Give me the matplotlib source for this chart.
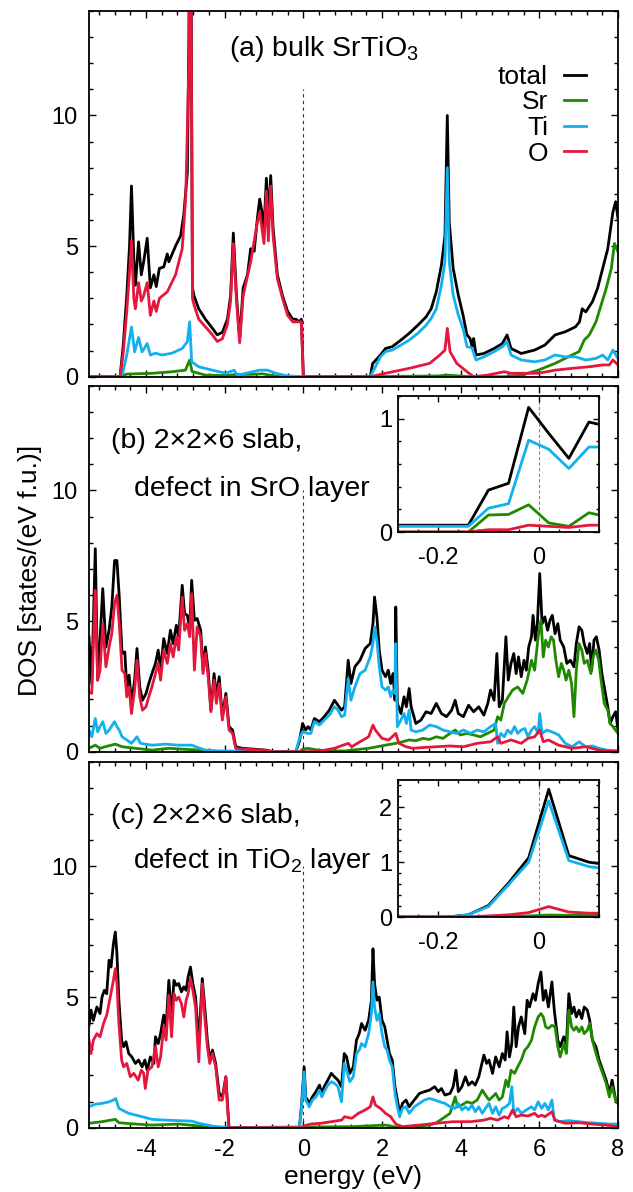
import numpy as np
import matplotlib
matplotlib.use("Agg")
import matplotlib.pyplot as plt
from matplotlib.ticker import MultipleLocator

plt.rcParams['font.family'] = ['Liberation Sans', 'DejaVu Sans']
plt.rcParams['mathtext.fontset'] = 'custom'
plt.rcParams['mathtext.rm'] = 'Liberation Sans'
plt.rcParams['mathtext.it'] = 'Liberation Sans:italic'
plt.rcParams['mathtext.bf'] = 'Liberation Sans:bold'
plt.rcParams['axes.unicode_minus'] = False

# ------------------------------------------------------------------ data
species = ["total", "Sr", "Ti", "O"]
colors = {"total": "#000000", "Sr": "#1f8a00", "Ti": "#12b0ee", "O": "#e5173c"}

# ---- panel (a): bulk SrTiO3
a_tot_E = [-5.45, -4.66, -4.58, -4.49, -4.42, -4.37, -4.31, -4.27, -4.19, -4.12, -4.06, -3.97, -3.89, -3.80, -3.74,
           -3.66, -3.55, -3.46, -3.42, -3.25, -3.12, -3.04, -2.95, -2.91, -2.88, -2.85, -2.82, -2.78, -2.66, -2.49,
           -2.31, -2.19, -2.06, -1.93, -1.85, -1.78, -1.70, -1.62, -1.53, -1.42, -1.34, -1.25, -1.17, -1.11, -1.04,
           -1.00, -0.94, -0.89, -0.83, -0.77, -0.66, -0.53, -0.40, -0.27, -0.19, -0.10, -0.05, 0.00, 1.70, 1.76,
           1.96, 2.09, 2.26, 2.48, 2.69, 2.91, 3.12, 3.25, 3.38, 3.51, 3.60, 3.66, 3.71, 3.81, 3.94,
           4.06, 4.16, 4.24, 4.29, 4.33, 4.39, 4.59, 4.85, 5.06, 5.18, 5.28, 5.54, 5.88, 6.14, 6.40,
           6.66, 6.92, 7.02, 7.09, 7.18, 7.35, 7.48, 7.61, 7.74, 7.87, 7.94, 8.00]
a_tot = [0, 0, 1.2, 3.1, 5.0, 7.3, 4.5, 3.5, 5.16, 3.9, 4.4, 5.3, 3.4, 3.9, 3.45,
         4.15, 4.2, 4.7, 4.4, 5.0, 5.4, 6.2, 7.8, 13, 20, 14, 3.4, 3.1, 2.6, 2.2,
         1.85, 1.6, 1.7, 2.2, 3.1, 5.5, 3.1, 1.45, 3.4, 3.9, 4.9, 4.8, 6.05, 6.8, 6.2,
         5.7, 7.6, 6.05, 7.7, 5.7, 3.9, 3.1, 2.5, 2.2, 2.2, 2.1, 2.2, 0, 0, 0.5,
         0.83, 1.08, 1.15, 1.4, 1.66, 1.97, 2.29, 2.6, 3.25, 4.27, 5.4, 10.0, 5.9, 4.14, 3.12,
         2.36, 1.6, 1.46, 1.15, 1.46, 0.83, 0.89, 1.08, 1.27, 1.6, 1.08, 0.89, 1.02, 1.21, 1.6,
         1.72, 1.91, 2.1, 2.6, 2.48, 2.87, 3.38, 4.14, 4.9, 6.3, 6.7, 6.05]

a_O_E = [-5.45, -4.66, -4.58, -4.49, -4.42, -4.37, -4.31, -4.27, -4.19, -4.12, -4.06, -3.97, -3.89, -3.80, -3.74,
         -3.66, -3.46, -3.25, -3.08, -2.99, -2.91, -2.88, -2.85, -2.82, -2.78, -2.66, -2.31, -2.19, -2.06, -1.93,
         -1.85, -1.78, -1.70, -1.62, -1.53, -1.34, -1.17, -1.11, -1.00, -0.94, -0.89, -0.83, -0.77, -0.66, -0.53,
         -0.40, -0.27, -0.10, -0.05, 0.00, 1.70, 2.09, 2.69, 3.21, 3.47, 3.60, 3.66, 3.73, 3.90, 4.16,
         4.33, 4.68, 5.11, 5.28, 5.97, 6.40, 6.83, 7.27, 7.61, 7.78, 7.87, 8.00]
a_O = [0, 0, 0.9, 2.5, 4.0, 5.2, 3.0, 2.6, 3.6, 2.9, 3.1, 3.6, 2.35, 2.9, 2.5,
       3.0, 3.25, 3.9, 4.9, 6.9, 12, 20, 13, 3.0, 2.75, 2.2, 1.6, 1.35, 1.45, 2.0,
       2.9, 5.1, 2.9, 1.3, 3.1, 4.4, 5.9, 6.3, 5.1, 7.1, 5.2, 7.3, 5.4, 3.75, 3.0,
       2.35, 2.1, 2.1, 2.1, 0, 0, 0.13, 0.32, 0.51, 0.83, 1.02, 1.85, 0.96, 0.51, 0.19,
       0.0, 0.06, 0.19, 0.13, 0.13, 0.25, 0.32, 0.38, 0.45, 0.45, 0.64, 0.45]

a_Ti_E = [-5.45, -4.66, -4.60, -4.49, -4.37, -4.29, -4.19, -4.10, -3.97, -3.89, -3.76, -3.59, -3.34, -3.08, -2.95,
          -2.89, -2.84, -2.66, -2.31, -1.97, -1.76, -1.68, -1.46, -1.12, -0.91, -0.70, -0.44, -0.10, 1.70, 1.96,
          2.09, 2.26, 2.48, 2.69, 2.91, 3.12, 3.25, 3.38, 3.51, 3.60, 3.66, 3.71, 3.81, 3.94, 4.06,
          4.16, 4.29, 4.39, 4.59, 4.85, 5.06, 5.18, 5.28, 5.54, 5.88, 6.14, 6.40, 6.66, 6.92, 7.18,
          7.44, 7.61, 7.74, 7.87, 8.00]
a_Ti = [0, 0, 0.1, 0.83, 1.9, 0.95, 1.5, 0.95, 1.27, 0.83, 0.9, 0.83, 0.9, 1.08, 1.34,
        2.1, 0.57, 0.38, 0.25, 0.13, 0.25, 0.06, 0.13, 0.25, 0.25, 0.13, 0.04, 0.0, 0, 0.76,
        0.96, 1.02, 1.21, 1.4, 1.66, 1.97, 2.23, 2.6, 3.5, 4.4, 8.0, 4.4, 3.12, 2.36, 1.85,
        1.15, 1.1, 0.64, 0.76, 0.96, 1.15, 1.34, 0.83, 0.64, 0.57, 0.64, 0.83, 0.76, 0.76, 0.64,
        0.7, 0.83, 0.64, 1.02, 0.7]

a_Sr_E = [-5.45, -4.66, -4.49, -3.85, -3.34, -3.00, -2.89, -2.83, -2.49, -1.97, -1.76, -1.29, -1.04, -0.78, -0.44,
          0.00, 1.70, 3.40, 3.66, 3.95, 4.24, 5.11, 5.54, 5.97, 6.40, 6.83, 7.01, 7.14, 7.27, 7.44,
          7.57, 7.70, 7.83, 7.91, 8.00]
a_Sr = [0, 0, 0.1, 0.13, 0.19, 0.25, 0.64, 0.2, 0.06, 0.04, 0.08, 0.09, 0.11, 0.04, 0,
        0, 0, 0.03, 0.06, 0.03, 0, 0, 0.06, 0.25, 0.51, 0.83, 0.96, 1.4, 1.6, 2.1,
        2.74, 3.38, 4.14, 5.1, 4.78]

# ---- panel (b): 2x2x6 slab, defect in SrO layer
b_tot_E = [-5.45, -5.38, -5.29, -5.23, -5.17, -5.10, -5.02, -4.94, -4.87, -4.80, -4.74, -4.68, -4.61, -4.54, -4.49,
           -4.43, -4.37, -4.29, -4.23, -4.16, -4.09, -4.00, -3.93, -3.85, -3.76, -3.69, -3.63, -3.55, -3.46, -3.38,
           -3.31, -3.23, -3.17, -3.08, -3.02, -2.95, -2.89, -2.84, -2.77, -2.70, -2.61, -2.55, -2.49, -2.42, -2.35,
           -2.27, -2.21, -2.14, -2.06, -1.97, -1.89, -1.80, -1.72, -1.55, -1.29, -0.95, -0.78, -0.19, -0.10, -0.02,
           0.06, 0.12, 0.19, 0.28, 0.41, 0.53, 0.66, 0.79, 0.88, 0.97, 1.05, 1.14, 1.21, 1.31, 1.44,
           1.57, 1.70, 1.77, 1.81, 1.87, 1.93, 2.00, 2.09, 2.16, 2.22, 2.28, 2.33, 2.35, 2.39, 2.48,
           2.56, 2.62, 2.69, 2.74, 2.86, 2.99, 3.12, 3.25, 3.38, 3.51, 3.64, 3.77, 3.86, 3.94, 4.07,
           4.20, 4.33, 4.46, 4.59, 4.69, 4.76, 4.85, 4.92, 4.98, 5.06, 5.15, 5.21, 5.28, 5.35, 5.41,
           5.47, 5.54, 5.61, 5.67, 5.73, 5.80, 5.84, 5.90, 5.95, 6.01, 6.07, 6.14, 6.21, 6.27, 6.33,
           6.40, 6.47, 6.53, 6.62, 6.70, 6.79, 6.88, 6.94, 7.01, 7.08, 7.14, 7.22, 7.28, 7.33, 7.39,
           7.45, 7.52, 7.59, 7.65, 7.74, 7.80, 7.87, 7.94, 8.00]
b_tot = [4.4, 2.6, 7.77, 2.74, 4.27, 6.24, 4.0, 4.65, 5.54, 7.32, 7.32, 5.92, 3.76, 3.82, 2.48,
         2.93, 1.85, 2.74, 3.95, 2.48, 1.97, 2.23, 2.61, 2.99, 3.38, 3.89, 3.12, 4.33, 3.76, 4.65,
         4.14, 4.84, 4.4, 6.37, 5.29, 5.22, 4.71, 6.56, 5.03, 5.1, 4.65, 3.12, 4.01, 3.12, 1.59,
         2.99, 2.1, 2.87, 1.34, 2.23, 0.96, 0.83, 0.19, 0.13, 0.1, 0.06, 0.0, 0.0, 0.4, 1.08,
         0.83, 0.96, 0.83, 1.27, 1.15, 1.34, 1.59, 1.97, 1.78, 1.59, 1.72, 3.5, 2.61, 3.25, 3.5,
         3.95, 4.14, 4.9, 5.92, 5.16, 3.89, 3.12, 2.87, 3.12, 2.61, 2.99, 1.97, 5.54, 1.85, 1.46,
         2.1, 1.72, 2.42, 1.72, 1.08, 1.21, 1.53, 1.46, 1.85, 1.46, 1.34, 1.59, 1.97, 1.46, 1.34,
         1.78, 1.53, 1.72, 1.4, 1.85, 2.36, 1.97, 3.76, 1.72, 1.97, 4.4, 2.74, 3.38, 3.76, 2.99,
         3.63, 2.87, 3.5, 3.12, 4.01, 4.4, 5.22, 4.27, 4.9, 6.82, 4.9, 5.16, 4.65, 5.03, 5.22,
         4.52, 4.9, 4.27, 4.01, 3.38, 3.5, 3.25, 4.14, 4.78, 4.65, 4.14, 3.76, 4.14, 3.12, 4.27,
         4.4, 3.89, 2.99, 2.48, 1.72, 1.08, 1.34, 1.53, 0.83]

b_O_E = [-5.45, -5.38, -5.29, -5.23, -5.17, -5.10, -5.02, -4.94, -4.87, -4.80, -4.74, -4.68, -4.61, -4.54, -4.49,
         -4.43, -4.37, -4.29, -4.23, -4.16, -4.09, -4.00, -3.93, -3.85, -3.76, -3.69, -3.63, -3.55, -3.46, -3.38,
         -3.31, -3.23, -3.17, -3.08, -3.02, -2.95, -2.89, -2.84, -2.77, -2.70, -2.61, -2.55, -2.49, -2.42, -2.35,
         -2.27, -2.21, -2.14, -2.06, -1.97, -1.89, -1.80, -1.72, -1.55, -1.29, -0.95, -0.78,
         0.00, 0.36, 0.79, 1.14, 1.23, 1.44, 1.66, 1.77, 1.83, 2.00, 2.17, 2.35, 2.43, 2.61, 2.78,
         3.04, 3.38, 3.73, 4.07, 4.42, 4.76, 4.94, 5.02, 5.28, 5.54, 5.71, 5.88, 6.01, 6.10, 6.23,
         6.49, 6.83, 7.18, 7.52, 8.00]
b_O = [2.3, 2.23, 6.18, 2.74, 3.12, 4.9, 3.25, 4.0, 4.52, 5.67, 5.99, 4.9, 3.12, 2.99, 2.1,
       2.48, 1.46, 2.36, 3.5, 2.1, 1.59, 1.72, 2.1, 2.48, 2.99, 3.38, 2.74, 3.89, 3.38, 4.14,
       3.63, 4.4, 3.89, 5.92, 4.65, 4.9, 4.4, 6.05, 3.12, 4.78, 4.4, 2.99, 3.76, 2.87, 1.53,
       2.74, 1.85, 2.61, 1.21, 2.1, 0.83, 0.7, 0.13, 0.1, 0.08, 0.05, 0.0,
       0.0, 0.01, 0.13, 0.32, 0.19, 0.38, 0.57, 1.02, 0.83, 0.51, 0.45, 0.7, 0.32, 0.19, 0.13,
       0.16, 0.19, 0.22, 0.19, 0.32, 0.38, 0.57, 0.32, 0.45, 0.32, 0.51, 0.57, 0.83, 0.38, 0.45,
       0.25, 0.13, 0.19, 0.06, 0.0]

b_Ti_E = [-5.45, -5.38, -5.29, -5.23, -5.17, -5.10, -5.02, -4.94, -4.80, -4.74, -4.68, -4.61, -4.49, -4.37, -4.23,
          -4.14, -3.85, -3.51, -3.17, -2.83, -2.74, -2.49, -2.14, -0.19, -0.10, -0.02, 0.10, 0.19, 0.28, 0.41,
          0.53, 0.66, 0.79, 0.88, 0.97, 1.05, 1.14, 1.21, 1.31, 1.44, 1.57, 1.70, 1.77, 1.81, 1.87,
          1.93, 2.00, 2.09, 2.16, 2.22, 2.28, 2.33, 2.35, 2.39, 2.48, 2.56, 2.62, 2.69, 2.74, 2.86,
          3.04, 3.21, 3.38, 3.55, 3.73, 3.90, 4.07, 4.25, 4.42, 4.59, 4.76, 4.89, 4.94, 5.02, 5.11,
          5.19, 5.28, 5.37, 5.45, 5.54, 5.63, 5.71, 5.80, 5.88, 5.97, 6.01, 6.07, 6.19, 6.32, 6.49,
          6.66, 6.83, 7.01, 7.18, 7.35, 7.52, 7.70, 8.00]
b_Ti = [0.83, 0.57, 1.27, 0.76, 0.96, 1.15, 0.7, 0.83, 1.15, 0.96, 0.83, 0.57, 0.45, 0.32, 0.57,
        0.32, 0.25, 0.29, 0.25, 0.25, 0.19, 0.06, 0.03, 0.0, 0.5, 0.76, 0.7, 0.7, 1.15, 1.02,
        1.21, 1.4, 1.72, 1.6, 1.34, 1.4, 2.8, 1.97, 2.48, 2.99, 3.12, 3.63, 4.14, 4.78, 4.27,
        3.25, 2.48, 2.36, 2.48, 2.1, 2.36, 2.23, 4.14, 0.96, 1.21, 1.46, 1.08, 1.59, 0.83, 0.76,
        0.83, 1.02, 0.96, 0.83, 0.76, 0.7, 0.83, 0.7, 0.83, 0.76, 0.96, 1.08, 0.32, 0.7, 0.57,
        0.83, 0.7, 0.96, 0.7, 0.83, 0.89, 0.57, 0.83, 0.96, 0.7, 1.46, 0.7, 0.83, 0.76, 0.64,
        0.32, 0.19, 0.38, 0.19, 0.22, 0.13, 0.06, 0.04]

b_Sr_E = [-5.45, -5.29, -5.17, -5.04, -4.78, -4.61, -4.27, -3.85, -3.42, -3.00, -2.66, -2.14, -0.10, -0.02, 0.10,
          0.50, 1.05, 1.23, 1.66, 2.09, 2.35, 2.52, 2.69, 2.86, 3.04, 3.21, 3.38, 3.55, 3.73, 3.86,
          3.99, 4.16, 4.33, 4.50, 4.68, 4.85, 4.94, 5.02, 5.11, 5.21, 5.32, 5.45, 5.58, 5.69, 5.80,
          5.88, 5.97, 6.04, 6.10, 6.16, 6.23, 6.30, 6.36, 6.42, 6.49, 6.56, 6.62, 6.68, 6.75, 6.82,
          6.88, 6.94, 7.01, 7.08, 7.14, 7.22, 7.31, 7.37, 7.44, 7.51, 7.57, 7.65, 7.74, 7.80, 7.87,
          8.00]
b_Sr = [0.13, 0.25, 0.13, 0.19, 0.29, 0.19, 0.13, 0.06, 0.13, 0.09, 0.06, 0.0, 0.0, 0.09, 0.13,
        0.03, 0.03, 0.06, 0.13, 0.25, 0.32, 0.38, 0.45, 0.42, 0.51, 0.47, 0.57, 0.51, 0.7, 0.83,
        0.64, 0.7, 0.64, 0.57, 0.7, 0.83, 1.34, 1.21, 1.85, 2.1, 2.36, 2.48, 2.23, 2.74, 3.5,
        3.12, 4.4, 5.03, 3.63, 4.27, 4.01, 4.4, 4.27, 3.5, 2.87, 3.38, 3.12, 2.74, 3.12, 2.61,
        1.34, 3.12, 4.14, 3.89, 3.38, 3.5, 2.99, 3.63, 3.89, 3.5, 2.74, 1.85, 1.59, 1.08, 0.96,
        0.7]

# ---- panel (c): 2x2x6 slab, defect in TiO2 layer
c_tot_E = [-5.45, -5.40, -5.34, -5.25, -5.17, -5.12, -5.06, -5.00, -4.94, -4.89, -4.83, -4.78, -4.74, -4.69, -4.62,
           -4.57, -4.51, -4.44, -4.36, -4.27, -4.19, -4.10, -4.03, -3.97, -3.89, -3.80, -3.76, -3.69, -3.63, -3.55,
           -3.49, -3.42, -3.35, -3.29, -3.23, -3.17, -3.10, -3.04, -2.98, -2.93, -2.87, -2.81, -2.74, -2.66, -2.57,
           -2.50, -2.44, -2.38, -2.31, -2.23, -2.14, -2.06, -1.97, -1.93, -1.89, -0.10, -0.05, 0.02,
           0.06, 0.15, 0.23, 0.32, 0.41, 0.47, 0.53, 0.62, 0.71, 0.79, 0.88, 0.97, 1.04, 1.10, 1.18,
           1.27, 1.35, 1.42, 1.48, 1.57, 1.66, 1.73, 1.77, 1.81, 1.87, 1.93, 2.00, 2.07, 2.13, 2.19,
           2.26, 2.33, 2.39, 2.45, 2.52, 2.61, 2.69, 2.82, 2.95, 3.08, 3.21, 3.34, 3.43, 3.51, 3.60,
           3.73, 3.81, 3.88, 3.94, 4.03, 4.12, 4.20, 4.29, 4.37, 4.46, 4.59, 4.66, 4.72, 4.81, 4.89,
           4.98, 5.06, 5.13, 5.18, 5.24, 5.30, 5.35, 5.41, 5.47, 5.54, 5.63, 5.69, 5.75, 5.84, 5.90,
           5.97, 6.04, 6.10, 6.16, 6.23, 6.32, 6.38, 6.47, 6.53, 6.62, 6.69, 6.75, 6.82, 6.88, 6.94,
           7.01, 7.08, 7.14, 7.22, 7.28, 7.35, 7.44, 7.52, 7.61, 7.70, 7.78, 7.85, 7.94, 8.00]
c_tot = [3.92, 4.5, 4.11, 4.62, 4.37, 5.0, 5.26, 5.13, 6.41, 6.15, 7.04, 7.49, 6.66, 4.88, 3.35,
         3.1, 3.29, 2.84, 2.71, 2.46, 2.59, 2.33, 2.59, 2.2, 2.71, 2.46, 3.48, 3.22, 3.6, 4.31,
         3.86, 5.64, 4.24, 5.64, 5.45, 5.52, 5.2, 5.39, 5.26, 5.77, 6.15, 5.52, 5.0, 3.22, 5.71,
         4.5, 3.35, 2.59, 2.97, 2.46, 1.31, 1.18, 1.95, 0.93, 0.0, 0.0, 0.8, 2.33,
         1.18, 0.93, 1.18, 1.38, 1.63, 1.31, 1.57, 1.82, 2.08, 1.95, 1.82, 1.57, 2.84, 2.71, 2.08,
         2.33, 3.35, 3.6, 3.99, 3.73, 4.11, 4.88, 6.85, 5.52, 4.88, 5.0, 4.11, 3.86, 3.35, 2.84,
         2.59, 1.57, 1.06, 0.55, 0.93, 1.06, 0.8, 1.06, 1.31, 1.38, 1.44, 1.57, 1.38, 1.5, 1.25,
         1.31, 1.57, 2.2, 1.38, 1.57, 1.95, 1.63, 1.76, 1.63, 1.95, 2.78, 2.46, 2.59, 2.08, 2.71,
         2.33, 2.84, 2.59, 3.67, 2.71, 3.22, 4.62, 3.1, 3.86, 4.24, 3.6, 4.88, 4.62, 5.13, 4.88,
         5.52, 5.96, 4.88, 5.26, 4.62, 5.58, 4.5, 3.35, 3.1, 3.48, 3.22, 5.13, 4.37, 4.62, 4.24,
         4.5, 4.18, 4.62, 4.5, 4.11, 3.35, 3.1, 2.59, 2.2, 1.82, 1.31, 1.82, 1.06, 0.93]

c_O_E = [-5.45, -5.40, -5.34, -5.25, -5.17, -5.08, -5.00, -4.91, -4.83, -4.78, -4.74, -4.69, -4.62, -4.57, -4.49,
         -4.40, -4.31, -4.20, -4.12, -4.06, -4.02, -3.95, -3.85, -3.76, -3.69, -3.63, -3.55, -3.49, -3.42, -3.35,
         -3.29, -3.23, -3.17, -3.10, -3.04, -2.98, -2.93, -2.87, -2.81, -2.74, -2.66, -2.57, -2.50, -2.44, -2.38,
         -2.31, -2.23, -2.14, -2.06, -1.97, -1.93, -1.89,
         -0.05, 0.00, 0.19, 0.45, 0.71, 0.97, 1.05, 1.23, 1.40, 1.57, 1.70, 1.77, 1.83, 1.96, 2.09,
         2.22, 2.35, 2.52, 2.95, 3.38, 3.81, 4.25, 4.59, 4.76, 4.94, 5.11, 5.21, 5.32, 5.41, 5.54,
         5.71, 5.88, 5.97, 6.06, 6.14, 6.32, 6.40, 6.66, 7.01, 7.35, 7.70, 8.00]
c_O = [3.35, 2.84, 3.35, 3.6, 3.48, 3.99, 4.31, 5.0, 5.64, 6.09, 5.52, 3.99, 2.59, 2.33, 2.46,
       1.95, 2.08, 1.82, 2.2, 2.08, 1.5, 2.2, 2.33, 3.1, 2.33, 2.71, 3.86, 3.35, 5.07, 3.48,
       5.13, 4.88, 5.0, 4.75, 4.24, 4.88, 5.13, 5.71, 5.26, 4.62, 2.52, 5.52, 4.11, 3.1, 2.46,
       2.84, 2.33, 1.06, 1.06, 1.95, 0.8, 0.0,
       0.0, 0.06, 0.14, 0.17, 0.23, 0.29, 0.42, 0.36, 0.55, 0.68, 0.8, 1.18, 0.87, 0.74, 0.55,
       0.42, 0.14, 0.04, 0.1, 0.17, 0.23, 0.23, 0.29, 0.36, 0.29, 0.42, 0.36, 0.68, 0.42, 0.48,
       0.45, 0.55, 0.42, 0.48, 0.42, 0.61, 0.29, 0.17, 0.19, 0.14, 0.1, 0.04]

c_Ti_E = [-5.45, -5.29, -5.12, -4.94, -4.83, -4.77, -4.69, -4.44, -4.10, -3.85, -3.51, -3.17, -2.83, -2.66, -2.31,
          -1.89, -0.10, -0.05, 0.02,
          0.06, 0.15, 0.23, 0.32, 0.41, 0.47, 0.53, 0.62, 0.71, 0.79, 0.88, 0.97, 1.04, 1.10, 1.18,
          1.27, 1.35, 1.42, 1.48, 1.57, 1.66, 1.73, 1.77, 1.81, 1.87, 1.93, 2.00, 2.07, 2.13, 2.19,
          2.26, 2.33, 2.39, 2.45, 2.52, 2.61, 2.69, 2.82, 2.95, 3.08, 3.21, 3.34, 3.47, 3.60, 3.73,
          3.86, 3.94, 4.03, 4.12, 4.20, 4.29, 4.37, 4.46, 4.55, 4.63, 4.72, 4.81, 4.89, 4.98, 5.06,
          5.15, 5.24, 5.30, 5.35, 5.45, 5.54, 5.67, 5.80, 5.88, 5.97, 6.06, 6.14, 6.23, 6.32, 6.38,
          6.49, 6.75, 7.01, 7.27, 7.52, 7.78, 8.00]
c_Ti = [0.8, 0.9, 0.93, 0.99, 1.06, 1.12, 0.74, 0.55, 0.42, 0.32, 0.29, 0.27, 0.25, 0.17, 0.06,
        0.0, 0.0, 0.7, 2.14,
        1.06, 0.8, 1.06, 1.18, 1.44, 1.18, 1.38, 1.63, 1.76, 1.7, 1.57, 0.99, 2.46, 2.2, 1.76,
        1.95, 2.84, 2.97, 3.22, 3.1, 3.6, 4.37, 5.58, 4.62, 4.11, 4.37, 3.6, 3.1, 2.97, 2.59,
        2.33, 1.31, 0.8, 0.42, 0.74, 0.8, 0.55, 0.8, 0.93, 1.06, 1.12, 1.06, 0.99, 0.93, 0.8,
        0.74, 0.93, 0.68, 0.8, 0.68, 0.87, 0.61, 0.8, 0.55, 0.74, 0.93, 0.55, 0.8, 0.48, 0.74,
        0.8, 0.93, 1.57, 0.55, 0.74, 0.55, 0.68, 0.8, 0.68, 0.99, 0.74, 0.93, 0.68, 1.06, 0.29,
        0.23, 0.27, 0.23, 0.19, 0.17, 0.14, 0.14]

c_Sr_E = [-5.45, -5.12, -4.78, -4.69, -4.27, -3.85, -3.17, -2.74, -2.31,
          1.23, 2.09, 2.43, 2.78, 3.21, 3.38, 3.55, 3.73, 3.81, 3.86, 3.92, 4.03, 4.16, 4.29, 4.42,
          4.55, 4.63, 4.72, 4.81, 4.89, 4.98, 5.06, 5.15, 5.21, 5.28, 5.37, 5.45, 5.54, 5.63, 5.71,
          5.80, 5.88, 5.97, 6.04, 6.10, 6.16, 6.23, 6.32, 6.40, 6.47, 6.53, 6.62, 6.69, 6.75, 6.82,
          6.88, 6.94, 7.01, 7.08, 7.14, 7.22, 7.28, 7.35, 7.44, 7.52, 7.61, 7.70, 7.78, 7.85, 7.94,
          8.00]
c_Sr = [0.17, 0.23, 0.32, 0.19, 0.14, 0.1, 0.14, 0.08, 0.0,
        0.04, 0.1, 0.0, 0.04, 0.1, 0.19, 0.36, 0.55, 0.93, 1.18, 0.8, 0.87, 0.99, 0.93, 1.06,
        1.44, 1.25, 1.06, 1.18, 1.31, 1.06, 1.18, 1.82, 1.57, 2.2, 2.08, 2.33, 2.59, 2.97, 3.1,
        3.35, 3.86, 4.24, 4.37, 4.24, 3.86, 3.8, 3.92, 3.86, 3.1, 2.71, 3.22, 2.84, 4.5, 3.86,
        3.73, 3.86, 3.67, 3.86, 3.6, 3.73, 3.99, 3.35, 2.84, 2.46, 2.08, 1.69, 1.18, 1.57, 1.06,
        0.93]

# ---- insets (zoom around the Fermi level)
ins_E = [-0.30, -0.26, -0.22, -0.18, -0.14, -0.10, -0.06, -0.02, 0.02, 0.06, 0.10, 0.14]
ins_b_tot = [0.06, 0.06, 0.06, 0.06, 0.06, 0.37, 0.43, 1.10, 0.87, 0.65, 0.97, 0.93]
ins_b_Sr = [0.0, 0.0, 0.0, 0.0, 0.0, 0.15, 0.155, 0.24, 0.08, 0.05, 0.17, 0.13]
ins_b_Ti = [0.05, 0.05, 0.05, 0.05, 0.05, 0.21, 0.25, 0.81, 0.73, 0.56, 0.75, 0.75]
ins_b_O = [0.0, 0.0, 0.0, 0.0, 0.0, 0.02, 0.02, 0.06, 0.05, 0.04, 0.06, 0.06]
ins_c_tot = [0.0, 0.0, 0.0, 0.0, 0.04, 0.21, 0.62, 1.08, 2.33, 1.12, 1.0, 0.95]
ins_c_Sr = [0.0, 0.0, 0.0, 0.0, 0.0, 0.0, 0.01, 0.02, 0.035, 0.03, 0.03, 0.03]
ins_c_Ti = [0.0, 0.0, 0.0, 0.0, 0.04, 0.19, 0.59, 1.0, 2.12, 1.03, 0.92, 0.87]
ins_c_O = [0.0, 0.0, 0.0, 0.0, 0.0, 0.02, 0.04, 0.08, 0.19, 0.09, 0.07, 0.07]

xticks_main = [-4, -2, 0, 2, 4, 6, 8]
yticks_main = [0, 5, 10]
ins_xticks = [-0.2, 0]
ins_b_yticks = [0, 1]
ins_c_yticks = [0, 1, 2]

# ------------------------------------------------------------------ figure
W, H = 633, 1192
fig = plt.figure(figsize=(W / 100, H / 100), dpi=100)

LEFT, RIGHT = 89, 618
panel_px = [(11, 376.7), (386, 751.7), (762, 1127.7)]
LW = 2.0
SPINE_LW = 1.3
TICK_FS = 17
TXT_FS = 20.5


def px_axes(x0, x1, y0, y1):
    return fig.add_axes([x0 / W, 1 - y1 / H, (x1 - x0) / W, (y1 - y0) / H])


def style(ax, maj_len=5, min_len=3, pad=8):
    for s in ax.spines.values():
        s.set_linewidth(SPINE_LW)
    ax.tick_params(which='both', direction='in', top=True, right=True,
                   width=1.0, labelsize=TICK_FS, pad=pad)
    ax.tick_params(which='major', length=maj_len)
    ax.tick_params(which='minor', length=min_len)


panels = [
    dict(total=(a_tot_E, a_tot), Sr=(a_Sr_E, a_Sr), Ti=(a_Ti_E, a_Ti), O=(a_O_E, a_O)),
    dict(total=(b_tot_E, b_tot), Sr=(b_Sr_E, b_Sr), Ti=(b_Ti_E, b_Ti), O=(b_O_E, b_O)),
    dict(total=(c_tot_E, c_tot), Sr=(c_Sr_E, c_Sr), Ti=(c_Ti_E, c_Ti), O=(c_O_E, c_O)),
]
fermi_top = [11, 10, 10]

axes = []
for i, (pdata, (y0, y1)) in enumerate(zip(panels, panel_px)):
    ax = px_axes(LEFT, RIGHT, y0, y1)
    ax.plot([0, 0], [0, fermi_top[i]], color='#333333', lw=0.8, ls=(0, (3, 3)), zorder=1)
    for sp in species:
        E, v = pdata[sp]
        ax.plot(E, v, color=colors[sp], lw=LW, label=sp, zorder=2)
    ax.set_xlim(-5.45, 8)
    ax.set_ylim(0, 14)
    ax.set_xticks(xticks_main)
    ax.set_yticks(yticks_main)
    ax.xaxis.set_minor_locator(MultipleLocator(0.4))
    ax.yaxis.set_minor_locator(MultipleLocator(1))
    style(ax)
    if i < 2:
        ax.tick_params(labelbottom=False)
    axes.append(ax)

ax_a, ax_b, ax_c = axes

ax_a.text(-1.88, 12.28, "(a) bulk SrTiO$_3$", fontsize=TXT_FS, ha='left', va='baseline')
ax_a.legend(loc='upper right', bbox_to_anchor=(0.939, 0.853), frameon=False,
            markerfirst=False, handlelength=0.83, handletextpad=0.6,
            labelspacing=0.06, borderpad=0, borderaxespad=0, fontsize=19)

ax_b.text(-4.89, 11.61, "(b) 2×2×6 slab,", fontsize=TXT_FS, ha='left', va='baseline')
ax_b.text(-4.30, 9.80, "defect in SrO layer", fontsize=TXT_FS, ha='left', va='baseline')
ax_c.text(-4.89, 11.65, "(c) 2×2×6 slab,", fontsize=TXT_FS, ha='left', va='baseline')
ax_c.text(-4.33, 9.94, "defect in TiO$_2$ layer", fontsize=20, ha='left', va='baseline')

fig.text(30 / W, 1 - 570 / H, "DOS [states/(eV f.u.)]", rotation=90, fontsize=19,
         ha='center', va='center')
fig.text((LEFT + RIGHT) / 2 / W, 1 - 1177 / H, "energy (eV)", fontsize=19,
         ha='center', va='center')

# insets
insets = [
    (dict(total=ins_b_tot, Sr=ins_b_Sr, Ti=ins_b_Ti, O=ins_b_O), (398, 599, 396, 532), 1.2, ins_b_yticks),
    (dict(total=ins_c_tot, Sr=ins_c_Sr, Ti=ins_c_Ti, O=ins_c_O), (398, 599, 780, 917), 2.5, ins_c_yticks),
]
for idata, (x0, x1, y0, y1), ytop, yt in insets:
    ia = px_axes(x0, x1, y0, y1)
    ia.axvline(0, color='#888888', lw=0.8, ls=(0, (3, 2)), zorder=1)
    for sp in species:
        ia.plot(ins_E, idata[sp], color=colors[sp], lw=LW, zorder=2)
    ia.set_xlim(-0.28, 0.12)
    ia.set_ylim(0, ytop)
    ia.set_xticks(ins_xticks)
    ia.set_xticklabels(["-0.2", "0"])
    ia.set_yticks(yt)
    ia.xaxis.set_minor_locator(MultipleLocator(0.04))
    ia.yaxis.set_minor_locator(MultipleLocator(0.2))
    style(ia, maj_len=4, min_len=2.5, pad=11)
    ia.tick_params(axis='y', pad=4)

fig.savefig("out.png", dpi=100)
